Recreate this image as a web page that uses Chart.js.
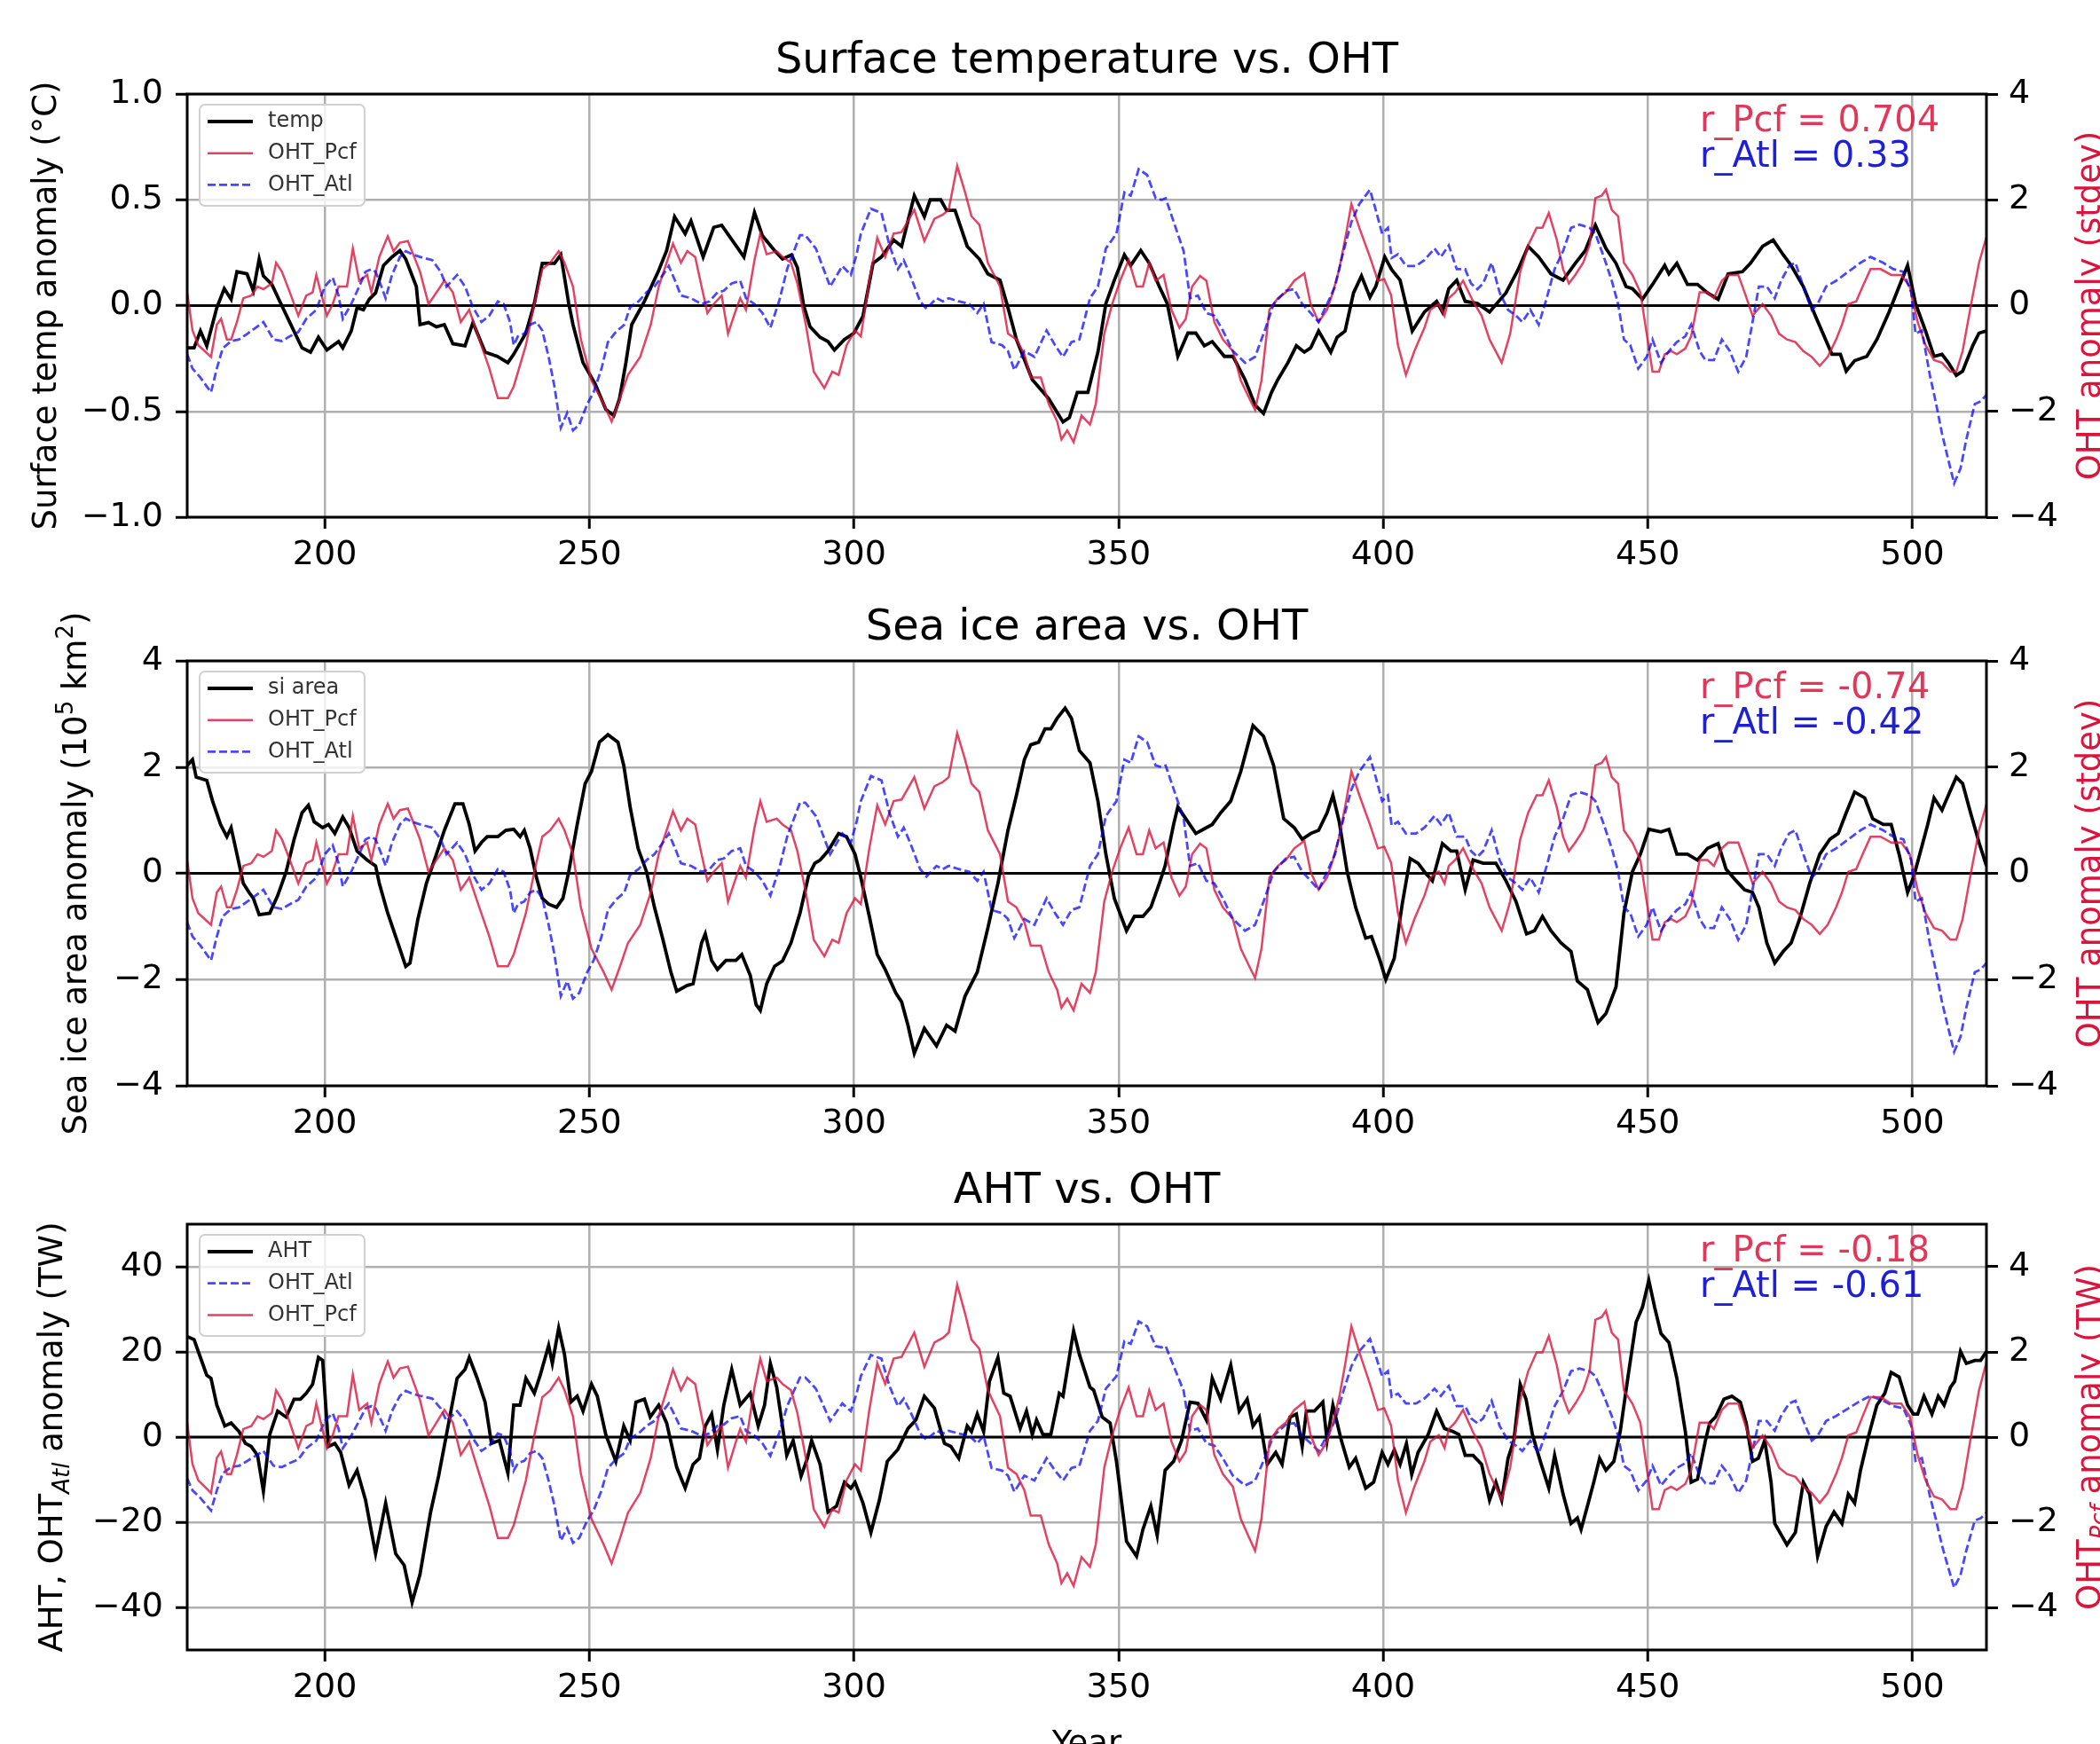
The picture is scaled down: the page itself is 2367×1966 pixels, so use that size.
<!DOCTYPE html>
<html>
<head>
<meta charset="utf-8">
<script src="https://cdn.jsdelivr.net/npm/chart.js@4.4.0/dist/chart.umd.min.js"></script>
<style>
body { margin:0; background:#fff; width:2367px; height:1966px; overflow:hidden; position:relative; }
canvas { position:absolute; left:0; }
</style>
</head>
<body>
<canvas id="c1" width="2367" height="680" style="top:0px"></canvas>
<canvas id="c2" width="2367" height="640" style="top:680px"></canvas>
<canvas id="c3" width="2367" height="646" style="top:1320px"></canvas>
<script>
// ---- data (year, value pairs at the turning points) ----
const tempYears = [174,175.3,176.5,177.7,179.6,181,182.3,183.4,185.3,186.5,187.6,188.4,190,191.5,193.4,195.7,197.3,198.8,200.4,201.5,202.6,203.4,205,206.1,207.3,208.4,209.6,211.1,212.7,214.2,215.3,217.3,218,219.6,221.1,222.6,224.2,226.5,228,230.3,232.6,234.6,235.7,238,239.6,241.1,243.4,244.6,246.1,246.9,248.8,251.1,253.1,254.6,255.7,256.9,258,260.4,263,264.6,266.1,268.1,269.2,271.5,273.5,275,279.2,281.2,282.7,285,286.5,288.2,289.3,290.5,291.7,293.6,295.1,296.3,298.2,300,301.7,303.6,305.2,307.5,309,311.4,313.3,314.4,316.4,317.5,319.1,321.4,323.7,325.3,327.6,329.1,330.7,333.7,336.8,339.5,340.7,342.2,344.2,346.1,347.6,349.2,351.1,352.3,354.2,355.8,357.7,359.2,361.2,363.1,364.6,366.2,367.7,370,371.6,373.9,375.8,377.4,378.9,380.1,382,383.6,385.1,386.3,387.8,390.1,391.3,392.8,394.4,395.9,397.5,398.6,400.3,401.6,403.2,405.5,407.8,410.1,411.2,412.4,413.9,415.5,417.8,420.1,423.2,425.5,427.4,429.4,431.7,434,436.3,438.2,440.1,442.1,444,445.9,447.1,449,450.9,453.2,454,455.5,457.5,459.4,461.3,463.3,465.2,467.9,469.4,471.7,473.7,475.6,477.1,479.4,481.7,484.8,486.4,487.5,489.1,491.4,493.3,495.6,497.5,499.1,500.6,502.5,504.1,505.6,506.8,508.3,509.5,511.4,512.6,514];
const tempVals = [-0.20,-0.20,-0.12,-0.19,-0.01,0.08,0.03,0.16,0.15,0.07,0.22,0.14,0.10,0.02,-0.08,-0.20,-0.22,-0.15,-0.21,-0.19,-0.17,-0.20,-0.12,-0.01,-0.02,0.03,0.06,0.19,0.23,0.26,0.22,0.09,-0.09,-0.08,-0.10,-0.09,-0.18,-0.19,-0.08,-0.22,-0.24,-0.27,-0.23,-0.13,0.01,0.20,0.20,0.24,0.01,-0.09,-0.27,-0.37,-0.49,-0.52,-0.44,-0.27,-0.09,0.02,0.16,0.26,0.42,0.34,0.40,0.23,0.37,0.38,0.23,0.44,0.33,0.26,0.22,0.24,0.18,0.0,-0.10,-0.15,-0.17,-0.21,-0.16,-0.13,-0.05,0.20,0.23,0.31,0.28,0.52,0.42,0.50,0.50,0.45,0.45,0.28,0.22,0.15,0.12,-0.01,-0.16,-0.35,-0.44,-0.55,-0.53,-0.41,-0.41,-0.22,0.01,0.12,0.24,0.19,0.26,0.20,0.09,0.01,-0.24,-0.13,-0.13,-0.19,-0.17,-0.24,-0.24,-0.35,-0.47,-0.51,-0.41,-0.35,-0.27,-0.19,-0.22,-0.20,-0.12,-0.22,-0.15,-0.12,0.06,0.14,0.04,0.09,0.23,0.17,0.12,-0.12,-0.03,0.02,-0.03,0.08,0.12,0.02,0.01,-0.03,0.06,0.17,0.28,0.23,0.15,0.12,0.20,0.26,0.38,0.27,0.20,0.09,0.08,0.03,0.10,0.19,0.15,0.20,0.10,0.10,0.06,0.03,0.15,0.16,0.20,0.28,0.31,0.24,0.19,0.09,-0.05,-0.23,-0.23,-0.31,-0.26,-0.24,-0.16,-0.03,0.09,0.19,0.01,-0.12,-0.24,-0.23,-0.27,-0.33,-0.31,-0.19,-0.13,-0.12];

const siYears = [174,175,175.7,177.7,178.8,180.3,181.5,182.3,183.4,184.6,185.7,186.5,187.6,189.6,191.1,192.7,194.2,195.7,196.9,198,199.6,200.7,201.9,203.4,204.6,206.1,208,209.6,210.3,211.9,213.8,215.3,216.1,217.6,219.2,221.1,222.6,224.6,226.1,227.3,228.4,229.6,230.7,232.7,234.2,235.7,236.9,237.7,238.8,240,241.1,242.3,243.8,245,246.1,247.7,249.2,250.4,251.9,253.5,255.4,256.5,257.7,259.2,260.8,262.3,263.9,265.4,266.5,268.5,269.6,271.2,271.9,273.1,274.2,275.8,277.7,278.8,280.4,281.5,282.3,283.5,285,286.5,288.1,289.8,291.4,292.6,293.6,295.1,297.1,298.6,300.2,301.3,302.9,304.4,305.9,307.9,309,310.2,311.4,313.3,315.6,317.5,319.1,321,323.3,325.3,327.2,329.1,330.7,332.2,333.4,334.9,336.1,337.2,338.4,339.9,341.1,342.6,344.6,346.1,347.6,349.2,351.5,353,354.6,356.1,357.7,358.8,360.4,361.2,362.7,364.6,366.6,367.7,369.3,371.2,373.1,375.4,377.4,379.3,381.2,383.2,384.7,386.3,387.8,389.4,390.5,391.7,393.2,394.8,396.7,397.8,399.4,400.5,402.1,403.6,405.1,406.6,407.8,409.3,411.2,412.8,413.9,415.5,417,418.9,421.3,423.2,425.1,427.1,428.6,430.1,431.7,433.6,435.5,436.7,438.6,440.6,442.1,444,445.5,447.1,448.6,450.2,452.5,454,455.5,457.5,459.4,461.3,463.3,464.8,466.7,468.3,469.8,471,472.5,474,475.6,477.1,478.7,480.6,482.5,484.4,486,487.5,489.1,491,492.5,494.5,496,497.5,499.1,500.2,501.4,502.9,504.1,505.6,506.8,508.3,509.5,511,512.6,514];
const siVals = [2.03,2.14,1.81,1.75,1.36,0.92,0.69,0.86,0.36,-0.19,-0.36,-0.47,-0.78,-0.75,-0.42,0.03,0.64,1.14,1.28,0.97,0.86,0.92,0.75,1.06,0.86,0.42,0.25,0.14,-0.19,-0.75,-1.31,-1.75,-1.69,-0.86,-0.19,0.36,0.81,1.31,1.31,0.92,0.42,0.58,0.69,0.69,0.81,0.83,0.69,0.81,0.47,-0.08,-0.47,-0.58,-0.64,-0.47,0.03,0.92,1.69,1.92,2.47,2.61,2.47,2.03,1.25,0.47,0.03,-0.64,-1.25,-1.86,-2.22,-2.11,-2.08,-1.31,-1.14,-1.64,-1.81,-1.64,-1.64,-1.53,-1.92,-2.47,-2.58,-2.08,-1.75,-1.65,-1.31,-0.75,-0.05,0.19,0.25,0.42,0.75,0.69,0.36,-0.08,-0.81,-1.53,-1.81,-2.25,-2.42,-2.86,-3.39,-2.92,-3.25,-2.86,-2.97,-2.31,-1.86,-1.03,-0.19,0.81,1.47,2.14,2.42,2.47,2.72,2.72,2.92,3.11,2.92,2.31,2.08,1.36,0.36,-0.47,-1.08,-0.81,-0.81,-0.64,-0.19,0.14,0.92,1.25,1.03,0.75,0.86,0.92,1.14,1.36,1.92,2.78,2.58,2.03,1.03,0.86,0.64,0.75,0.81,1.14,1.47,0.97,0.03,-0.64,-1.22,-1.19,-1.64,-2.0,-1.6,-0.58,0.28,0.19,0.03,-0.14,0.56,0.42,0.42,-0.31,0.25,0.19,0.19,-0.14,-0.53,-1.14,-1.08,-0.81,-1.08,-1.31,-1.47,-2.03,-2.19,-2.81,-2.64,-2.14,-0.75,0.03,0.36,0.83,0.78,0.83,0.36,0.36,0.25,0.47,0.56,0.08,-0.14,-0.31,-0.36,-0.64,-1.31,-1.69,-1.47,-1.31,-0.86,-0.19,0.36,0.64,0.75,1.14,1.53,1.42,1.03,0.92,0.92,0.36,-0.36,-0.08,0.36,0.92,1.42,1.19,1.47,1.81,1.69,1.14,0.58,0.14];

const ahtYears = [174,175.3,176.5,177.7,178.5,179.6,181.1,182.3,183.8,185,186.1,187.3,188.4,189.6,191.1,192.7,194.2,195.4,196.5,197.7,198.8,199.6,200.7,201.9,203,204.6,206.1,207.7,209.6,211.5,213.4,215,216.5,218,220,221.5,223,225,226.5,227.3,228.8,230.3,231.5,233,234.6,235.7,236.9,238,239.6,240.7,242.3,243,244.2,245.3,246.5,247.7,248.8,250.4,251.5,253.1,255,256.5,257.7,258.8,260.4,261.5,263.1,264.6,266.5,268.1,269.6,270.8,271.9,273.1,274.2,275.4,276.9,278.5,280.4,281.9,283.1,284.2,285.4,287.3,288.5,290,291.2,292,293.6,295.1,296.7,298.2,299.4,300.2,301.7,303.2,304.8,306.3,308.3,310.2,311.7,313.3,315.2,317.1,318.3,319.8,321.4,322.2,323.3,324.5,325.6,327.2,328.3,329.5,331.4,332.6,333.7,334.5,335.7,337.2,338.8,339.5,341.5,342.6,344.6,345.3,346.9,348.4,349.6,351.5,353.4,354.6,356.1,357.3,358.8,360.4,361.9,363.5,365,366.6,367.7,369.3,371.2,372.8,374.3,375.4,376.6,378.1,379.7,380.9,382.4,383.6,384.7,385.5,387,388.6,389.4,390.5,392.1,393.6,394.8,396.7,398.2,399.8,400.9,402.1,403.2,404.4,405.4,406.6,408.5,410.1,411.6,413.2,414.3,415.5,417,418.6,420.1,421.3,422.4,423.6,424.7,425.9,427,428.2,429.7,431.3,432.4,434,435.5,436.7,437.4,438.6,439.8,440.9,442.1,443.6,444.8,446.3,447.8,449,450.2,451.3,452.5,454,455.5,457.1,458.2,459.4,460.9,461.7,462.8,464.4,465.9,467.5,468.6,469.8,470.9,472.1,473.3,474,476.3,477.9,479.4,480.6,482.1,483.7,485.2,486.7,487.9,489.1,490.2,491.8,493.3,494.8,496,497.5,499.1,500.2,501,502.2,503.7,504.9,506,507.2,508,509.1,510.2,511.8,512.9,514];
const ahtVals = [23.6,22.9,18.7,14.5,13.8,7.5,2.6,3.3,1.3,-1.5,-2.2,-4.3,-12.7,0.6,6.1,4.7,8.9,8.9,10.3,12.4,18.7,18.0,-2.2,-1.5,-3.6,-11.3,-7.8,-14.8,-27.4,-15.5,-27.4,-30.1,-38.8,-32.2,-17.6,-9.2,0.6,13.8,15.9,18.7,13.8,8.2,-1.5,-0.8,-8.5,7.5,7.5,13.8,10.3,14.5,21.5,17.3,25.6,19.4,8.2,9.6,6.1,12.4,9.6,0.6,-5.7,2.6,-0.8,8.2,8.9,4.7,7.5,3.3,-7.1,-12.0,-6.4,-5.0,2.6,5.4,-2.9,7.5,15.9,7.5,10.3,2.6,7.5,17.3,11.7,-4.3,-0.8,-9.2,-5.0,-0.8,-6.4,-17.6,-16.2,-10.6,-12.0,-10.6,-15.5,-22.4,-14.8,-5.7,-2.9,2.0,4.0,9.6,6.8,-1.5,-2.2,-5.0,2.6,1.3,5.4,1.3,13.1,18.7,10.3,9.6,2.0,6.1,0.6,4.0,0.6,0.6,10.3,9.6,24.9,19.4,11.7,11.0,4.7,3.3,-5.7,-24.5,-28.0,-21.7,-16.2,-23.1,-7.8,-5.7,-0.8,8.2,7.9,4.0,13.8,8.9,16.9,6.1,8.9,2.6,4.7,-6.4,-3.6,-6.4,4.7,5.4,-2.2,6.1,6.1,8.2,-0.8,7.5,-0.8,-7.1,-5.0,-12.0,-10.6,-3.6,-6.4,-3.0,-6.4,-1.5,-8.8,-3.6,0.6,6.1,2.0,1.3,0.6,-4.3,-4.3,-6.4,-14.8,-10.6,-14.8,-5.0,-0.8,12.4,8.9,0.6,-5.7,-12.0,-4.3,-13.4,-20.3,-19.0,-21.7,-16.2,-10.6,-5.0,-7.8,-5.7,1.3,14.5,27.0,30.5,36.8,30.5,24.3,22.2,13.8,1.3,-10.6,-9.9,-0.8,3.3,4.7,8.9,9.6,8.2,3.3,-5.7,-5.0,-0.8,-10.6,-20.3,-25.3,-22.4,-10.6,-13.4,-28.0,-21.0,-17.6,-20.3,-13.4,-15.5,-7.8,0.6,7.5,10.3,15.2,14.1,7.5,5.4,5.4,9.6,5.4,9.6,7.5,11.7,13.1,20.1,17.3,18.0,18.0,20.1];

// OHT series in standard deviations (the same curves appear in all three panels)
const pcfYears = [174,175,176.1,177.3,178.5,179.6,180.4,181.5,182.3,183.4,184.6,186.1,187.3,188.4,190,190.8,191.9,193.4,195,196.5,197.7,198.4,200.4,201.5,202.6,204.2,205.3,206.5,208,208.8,210.3,211.9,213,214.2,215.7,216.9,218,219.6,220.7,222.6,224.2,225.7,227.3,229.2,231.1,232.7,234.6,235.7,238,239.6,241.1,242.6,244.2,245.3,246.9,248.4,250.4,252.7,254.2,255.8,257.3,259.6,261.6,263.1,264.6,265.8,267.3,268.5,270,271.2,272.3,273.5,275,276.2,277.7,278.5,279.6,281.2,282.3,283.5,285.4,286.5,288.1,289.3,290.9,292.4,294.4,295.9,297.1,298.6,300.2,301.3,302.9,304.4,305.9,307.5,309,311.4,313.3,315.2,316.8,317.9,319.5,321,322.2,323.7,325.3,327.6,329.1,330.7,332.2,333.4,335.3,336.8,338.4,339.2,340.3,341.5,343,344.6,345.7,347.3,348.8,350.3,351.9,353.4,354.6,355.8,357,358.5,360,361.5,362.7,363.9,365.4,366.6,368.1,369.7,371.6,373.1,374.7,375.8,377,378.5,380.1,381.6,383.2,385.1,386.3,387.8,389.4,390.5,391.7,392.8,394,395.5,397.5,399,400.2,401.5,402.8,404.3,405.9,407.8,408.9,410.5,411.6,412.4,413.6,415.1,417,418.6,420.1,422.4,424,425.9,427.4,429,430.1,431.3,432.8,434,435.1,436.3,437.8,439,440.1,441.3,442.1,443.2,444.4,445.5,447.1,448.6,449.8,450.9,452.1,453.2,454.4,455.5,457.1,458.2,459.8,461.3,462.5,464,465.2,467.1,468.3,469.8,471.7,473.3,474.8,476.3,477.9,479.4,481,482.5,484,485.6,486.7,487.9,489.4,490.6,492.1,494,496,497.9,499.5,501,502.5,504.1,505.6,507.2,508.3,509.5,511,512.6,514];
const pcfVals = [0.25,-0.47,-0.75,-0.86,-0.97,-0.36,-0.25,-0.64,-0.64,-0.31,0.14,0.19,0.36,0.31,0.42,0.81,0.64,0.25,-0.19,0.19,0.25,0.58,-0.19,0.03,0.36,0.36,1.08,0.47,0.58,0.25,0.92,1.31,1.03,1.19,1.22,0.92,0.64,0.03,0.19,0.47,0.25,-0.31,-0.08,-0.64,-1.19,-1.75,-1.75,-1.53,-0.75,0.03,0.69,0.81,1.03,0.81,0.36,-0.64,-1.42,-1.86,-2.19,-1.75,-1.31,-0.97,-0.36,0.36,0.81,1.17,0.81,1.03,0.92,0.36,-0.14,0.03,0.19,-0.53,-0.08,0.14,-0.08,0.86,1.36,0.97,1.03,0.92,0.81,0.42,-0.36,-1.25,-1.56,-1.25,-1.31,-0.75,-0.47,-0.58,0.47,1.28,0.92,1.36,1.39,1.81,1.22,1.64,1.72,1.81,2.64,2.14,1.69,1.53,0.81,0.36,-0.53,-0.64,-0.92,-1.36,-1.36,-1.86,-2.19,-2.53,-2.36,-2.58,-2.08,-2.25,-1.86,-0.53,0.03,0.47,0.86,0.36,0.36,0.81,0.47,0.58,-0.08,-0.42,-0.25,0.36,0.56,0.47,-0.31,-0.64,-0.86,-1.42,-1.75,-1.97,-1.42,-0.08,0.14,0.25,0.47,0.61,0.03,-0.31,-0.08,0.25,0.69,1.25,1.92,1.47,0.92,0.47,0.5,0.2,-0.75,-1.31,-0.86,-0.42,-0.08,0.03,-0.19,0.14,0.25,0.47,0.08,-0.19,-0.64,-1.08,-0.53,0.64,1.14,1.47,1.47,1.75,1.25,0.69,0.42,0.58,0.81,1.14,2.03,2.08,2.19,1.81,1.69,0.81,0.58,0.25,-0.53,-1.25,-1.25,-0.92,-0.86,-0.92,-0.81,-0.58,0.25,0.25,0.14,0.47,0.58,0.58,0.25,-0.19,0.03,-0.19,-0.53,-0.64,-0.69,-0.86,-0.97,-1.14,-0.97,-0.64,-0.36,0.03,0.08,0.36,0.69,0.69,0.58,0.58,0.36,-0.31,-0.75,-1.03,-1.08,-1.25,-1.25,-0.86,-0.03,0.81,1.3];

const atlYears = [174,175,176.5,178.5,179.6,180.7,182.3,183.8,185.4,186.9,188.4,190.3,191.9,193.4,195,196.5,198.4,200,201.5,202.6,203.4,205,206.5,207.7,208.8,209.6,210.7,211.5,212.7,214.2,215.3,216.5,218,220.3,221.9,223,225,226.5,228,229.6,231.1,232.7,233.8,235,235.7,236.5,237.7,238.8,240,241.1,242.3,243.4,244.6,245.8,246.9,248.1,249.6,250.8,252.3,253.5,255,256.6,257.7,259.3,260.8,262.3,263.9,265,266.2,267.3,269.2,271.2,272.7,274.2,275.4,276.9,278.5,279.6,281.2,282.7,284.2,285.9,287.4,289.8,290.8,292.8,295.5,297.8,299.4,300.5,301.3,303.2,305.2,306.7,308.3,309.4,310.6,312.5,313.7,315.6,316.8,317.9,319.8,321.8,323.3,324.5,326,328,329.1,330.3,332.2,334.1,336.4,338,339.5,341.1,342.6,344.6,346.1,347.6,349.6,351.1,352.3,353.8,355.4,357,358.1,358.9,360.8,362.3,363.5,365,366.6,368.1,369.7,371.6,373.9,375.8,377.8,379.3,381.6,383.2,384.7,386.3,387.8,389.4,390.9,392.5,394,395.5,397.5,398.6,399.8,400.9,401.6,402.8,404.3,406.2,407.8,409.7,410.9,412.4,413.9,415.5,416.6,417.8,418.9,420.5,422,423.6,425.1,426.3,427.8,429.4,430.9,432.4,434,435.5,437.1,439,440.1,441.7,443.2,444.4,445.5,446.7,448.2,449.8,450.9,452.5,454,455.5,457.1,458.2,459.8,460.9,462.5,464,465.5,467.1,468.6,469.8,471,472.5,474,475.2,476.7,477.9,479.4,481,482.1,483.7,485.6,487.9,490.2,492.1,494.5,496.4,498.3,499.8,500.6,501.8,503.3,504.5,505.6,506.8,507.9,509.1,510.2,511.8,512.9,514];
const atlVals = [-0.92,-1.19,-1.36,-1.64,-1.19,-0.81,-0.67,-0.64,-0.53,-0.42,-0.31,-0.64,-0.67,-0.58,-0.50,-0.25,-0.08,0.36,0.53,0.19,-0.25,0.03,0.36,0.64,0.69,0.64,0.36,0.14,0.58,0.92,1.03,0.97,0.92,0.86,0.64,0.36,0.58,0.36,-0.03,-0.31,-0.19,0.08,0.03,-0.31,-0.75,-0.58,-0.53,-0.36,-0.31,-0.47,-0.97,-1.53,-2.31,-2.03,-2.36,-2.25,-1.86,-1.64,-1.19,-0.69,-0.50,-0.36,-0.03,0.08,0.25,0.36,0.58,0.75,0.47,0.19,0.14,0.03,0.08,0.25,0.28,0.42,0.47,0.14,0.03,-0.14,-0.42,0.1,0.7,1.33,1.33,1.08,0.36,0.75,0.58,0.97,1.36,1.83,1.75,1.14,0.69,0.86,0.58,0.08,-0.06,0.14,0.08,0.14,0.08,0.03,-0.14,0.03,-0.69,-0.75,-0.86,-1.22,-0.86,-0.97,-0.47,-0.75,-0.97,-0.69,-0.64,0.14,0.36,1.08,1.36,2.14,2.08,2.58,2.47,2.03,2.0,2.03,1.47,1.03,0.14,0.19,-0.14,-0.19,-0.47,-0.86,-1.08,-0.97,-0.42,0.03,0.28,0.31,0.03,-0.14,-0.31,0.03,0.36,1.03,1.58,1.92,2.19,1.81,1.36,1.47,0.9,0.97,0.75,0.75,0.86,1.08,0.92,1.14,0.69,0.69,0.42,0.31,0.42,0.81,0.25,-0.08,-0.19,-0.31,-0.08,-0.36,0.14,0.69,1.03,1.47,1.53,1.47,1.36,0.92,0.47,0.03,-0.64,-0.75,-1.19,-0.97,-0.64,-1.08,-0.86,-0.69,-0.58,-0.36,-0.86,-1.03,-1.03,-0.64,-0.86,-1.25,-0.97,-0.31,0.36,0.36,0.14,0.47,0.75,0.81,0.36,-0.08,0.03,0.36,0.47,0.64,0.81,0.92,0.81,0.69,0.64,0.25,-0.53,-0.47,-1.31,-1.86,-2.42,-2.92,-3.36,-3.08,-2.53,-1.86,-1.81,-1.69];

const xTicks = [200, 250, 300, 350, 400, 450, 500];
const corr = [
  ['r_Pcf = 0.704', 'r_Atl = 0.33'],
  ['r_Pcf = -0.74', 'r_Atl = -0.42'],
  ['r_Pcf = -0.18', 'r_Atl = -0.61']
];

const FONT = 'DejaVu Sans';
const RED = 'rgba(220,20,60,0.8)';
const BLUE = 'rgba(0,0,255,0.72)';
const GRID = '#b0b0b0';
const DASH = [9, 4];

const pts = (xs, ys) => xs.map((x, i) => ({x: x, y: ys[i]}));
const minus = s => String(s).replace('-', '\u2212');

function drawRich(ctx, segs, x, y, size, color) {
  // rotated (bottom to top) text centred on x,y; segs may be sub/superscript
  ctx.save();
  ctx.translate(x, y);
  ctx.rotate(-Math.PI / 2);
  ctx.fillStyle = color;
  ctx.textBaseline = 'alphabetic';
  const fontOf = s => (s.it ? 'italic ' : '') + Math.round((s.sub || s.sup) ? size * 0.7 : size) + 'px "' + FONT + '"';
  let w = 0;
  segs.forEach(s => { ctx.font = fontOf(s); s.w = ctx.measureText(s.t).width; w += s.w; });
  let cx = -w / 2;
  segs.forEach(s => {
    ctx.font = fontOf(s);
    const dy = s.sub ? size * 0.22 : (s.sup ? -size * 0.42 : 0);
    ctx.fillText(s.t, cx, size * 0.36 + dy);
    cx += s.w;
  });
  ctx.restore();
}

function panel(id, cfg) {
  const decor = {
    id: 'decor' + id,
    beforeDatasetsDraw(chart) {
      const {ctx, chartArea: a, scales} = chart;
      const y0 = scales.y.getPixelForValue(0);
      ctx.save();
      ctx.strokeStyle = '#000';
      ctx.lineWidth = 3;
      ctx.beginPath(); ctx.moveTo(a.left, y0); ctx.lineTo(a.right, y0); ctx.stroke();
      ctx.restore();
    },
    afterDraw(chart) {
      const {ctx, chartArea: a} = chart;
      ctx.save();
      // frame
      ctx.strokeStyle = '#000';
      ctx.lineWidth = 3;
      ctx.strokeRect(a.left, a.top, a.right - a.left, a.bottom - a.top);
      // title
      ctx.fillStyle = '#000';
      ctx.font = '48px "' + FONT + '"';
      ctx.textAlign = 'center';
      ctx.textBaseline = 'alphabetic';
      ctx.fillText(cfg.title, (a.left + a.right) / 2, a.top - 24);
      // legend
      const lx = a.left + 14, ly = a.top + 12;
      ctx.fillStyle = 'rgba(255,255,255,0.8)';
      ctx.strokeStyle = '#d0d0d0';
      ctx.lineWidth = 2;
      ctx.beginPath();
      ctx.roundRect(lx, ly, 186, 114, 6);
      ctx.fill(); ctx.stroke();
      cfg.legend.forEach((e, i) => {
        const yy = a.top + 31 + i * 35.7;
        ctx.strokeStyle = e.color;
        ctx.lineWidth = e.width;
        ctx.setLineDash(e.dash || []);
        ctx.beginPath(); ctx.moveTo(a.left + 23, yy); ctx.lineTo(a.left + 74, yy); ctx.stroke();
        ctx.setLineDash([]);
        ctx.fillStyle = '#333';
        ctx.font = '24px "' + FONT + '"';
        ctx.textAlign = 'left';
        ctx.textBaseline = 'middle';
        ctx.fillText(e.label, a.left + 91, yy);
      });
      // correlations
      ctx.font = '40px "' + FONT + '"';
      ctx.textAlign = 'left';
      ctx.textBaseline = 'alphabetic';
      ctx.fillStyle = 'rgba(220,20,60,0.85)';
      ctx.fillText(cfg.corr[0], 1916, a.top + 42);
      ctx.fillStyle = 'rgba(0,0,210,0.88)';
      ctx.fillText(cfg.corr[1], 1916, a.top + 82);
      ctx.restore();
      // axis titles
      const cy = (a.top + a.bottom) / 2;
      drawRich(ctx, cfg.leftTitle, cfg.leftX, cy, 37, '#000');
      drawRich(ctx, cfg.rightTitle, 2354, cy, 37, 'crimson');
      if (cfg.xTitle) {
        ctx.save();
        ctx.fillStyle = '#000';
        ctx.font = '37px "' + FONT + '"';
        ctx.textAlign = 'center';
        ctx.textBaseline = 'alphabetic';
        ctx.fillText(cfg.xTitle, (a.left + a.right) / 2, a.bottom + 117);
        ctx.restore();
      }
    }
  };

  const tickFont = {family: FONT, size: 38};
  const scales = {
    x: {
      type: 'linear', min: 174, max: 514,
      afterBuildTicks: s => { s.ticks = xTicks.map(v => ({value: v})); },
      afterFit: s => { s.height = cfg.xHeight; },
      grid: {color: GRID, lineWidth: 2.5, drawTicks: true, tickLength: 13, tickColor: '#000', tickWidth: 3},
      border: {display: false},
      ticks: {font: tickFont, color: '#000', padding: 7, maxRotation: 0, autoSkip: false}
    },
    y: {
      type: 'linear', position: 'left', min: cfg.left.min, max: cfg.left.max,
      afterBuildTicks: s => { s.ticks = cfg.left.ticks.map(v => ({value: v})); },
      afterFit: s => { s.width = 211; },
      grid: {color: GRID, lineWidth: 2.5, drawTicks: true, tickLength: 13, tickColor: '#000', tickWidth: 3},
      border: {display: false},
      ticks: {font: tickFont, color: '#000', padding: 14, autoSkip: false, callback: cfg.left.fmt}
    },
    yR: {
      type: 'linear', position: 'right', min: cfg.right.min, max: cfg.right.max,
      afterBuildTicks: s => { s.ticks = cfg.right.ticks.map(v => ({value: v})); },
      afterFit: s => { s.width = 128; },
      grid: {drawOnChartArea: false, drawTicks: true, tickLength: 13, tickColor: '#000', tickWidth: 3},
      border: {display: false},
      ticks: {font: tickFont, color: '#000', padding: 12, autoSkip: false, callback: v => minus(v)}
    }
  };
  Object.assign(scales, cfg.hidden || {});

  new Chart(document.getElementById(id), {
    type: 'line',
    data: {datasets: cfg.datasets},
    options: {
      responsive: false,
      animation: false,
      layout: {padding: {top: cfg.top, left: 0, right: 0, bottom: 0}},
      plugins: {legend: {display: false}, tooltip: {enabled: false}, title: {display: false}},
      elements: {point: {radius: 0}, line: {tension: 0}},
      scales: scales
    },
    plugins: [decor]
  });
}

const line = (label, xs, ys, axis, color, width, order, dash) => ({
  label: label, data: pts(xs, ys), yAxisID: axis, borderColor: color,
  borderWidth: width, pointRadius: 0, tension: 0, order: order, borderDash: dash || [], fill: false
});

const legBlack = l => ({label: l, color: '#000', width: 3.8});
const legRed = {label: 'OHT_Pcf', color: RED, width: 2.5};
const legBlue = {label: 'OHT_Atl', color: BLUE, width: 2.8, dash: DASH};
const stdevAxis = {min: -4, max: 4, ticks: [-4, -2, 0, 2, 4]};

panel('c1', {
  title: 'Surface temperature vs. OHT', top: 106, xHeight: 97,
  left: {min: -1, max: 1, ticks: [-1, -0.5, 0, 0.5, 1], fmt: v => minus(v.toFixed(1))},
  right: stdevAxis,
  leftX: 50,
  leftTitle: [{t: 'Surface temp anomaly (\u00b0C)'}],
  rightTitle: [{t: 'OHT anomaly (stdev)'}],
  legend: [legBlack('temp'), legRed, legBlue],
  corr: corr[0],
  datasets: [
    line('temp', tempYears, tempVals, 'y', '#000', 3.8, 3),
    line('OHT_Pcf', pcfYears, pcfVals, 'yR', RED, 2.5, 2),
    line('OHT_Atl', atlYears, atlVals, 'yR', BLUE, 2.8, 1, DASH)
  ]
});

panel('c2', {
  title: 'Sea ice area vs. OHT', top: 65, xHeight: 96,
  left: {min: -4, max: 4, ticks: [-4, -2, 0, 2, 4], fmt: v => minus(v)},
  right: stdevAxis,
  leftX: 84,
  leftTitle: [{t: 'Sea ice area anomaly (10'}, {t: '5', sup: true}, {t: ' km'}, {t: '2', sup: true}, {t: ')'}],
  rightTitle: [{t: 'OHT anomaly (stdev)'}],
  legend: [legBlack('si area'), legRed, legBlue],
  corr: corr[1],
  datasets: [
    line('si area', siYears, siVals, 'y', '#000', 3.8, 3),
    line('OHT_Pcf', pcfYears, pcfVals, 'yR', RED, 2.5, 2),
    line('OHT_Atl', atlYears, atlVals, 'yR', BLUE, 2.8, 1, DASH)
  ]
});

panel('c3', {
  title: 'AHT vs. OHT', top: 60, xHeight: 106, xTitle: 'Year',
  left: {min: -50, max: 50, ticks: [-40, -20, 0, 20, 40], fmt: v => minus(v)},
  right: {min: -5, max: 5, ticks: [-4, -2, 0, 2, 4]},
  leftX: 57,
  leftTitle: [{t: 'AHT, OHT'}, {t: 'Atl', sub: true, it: true}, {t: ' anomaly (TW)'}],
  rightTitle: [{t: 'OHT'}, {t: 'Pcf', sub: true, it: true}, {t: ' anomaly (TW)'}],
  legend: [legBlack('AHT'), legBlue, legRed],
  corr: corr[2],
  // the OHT curves are kept in stdev units and placed on their own (hidden) TW-matched axes
  hidden: {
    yAtl: {type: 'linear', display: false, min: -4.75, max: 4.75},
    yPcf: {type: 'linear', display: false, min: -3.69, max: 3.69}
  },
  datasets: [
    line('AHT', ahtYears, ahtVals, 'y', '#000', 3.8, 3),
    line('OHT_Atl', atlYears, atlVals, 'yAtl', BLUE, 2.8, 2, DASH),
    line('OHT_Pcf', pcfYears, pcfVals, 'yPcf', RED, 2.5, 1)
  ]
});
</script>
</body>
</html>
